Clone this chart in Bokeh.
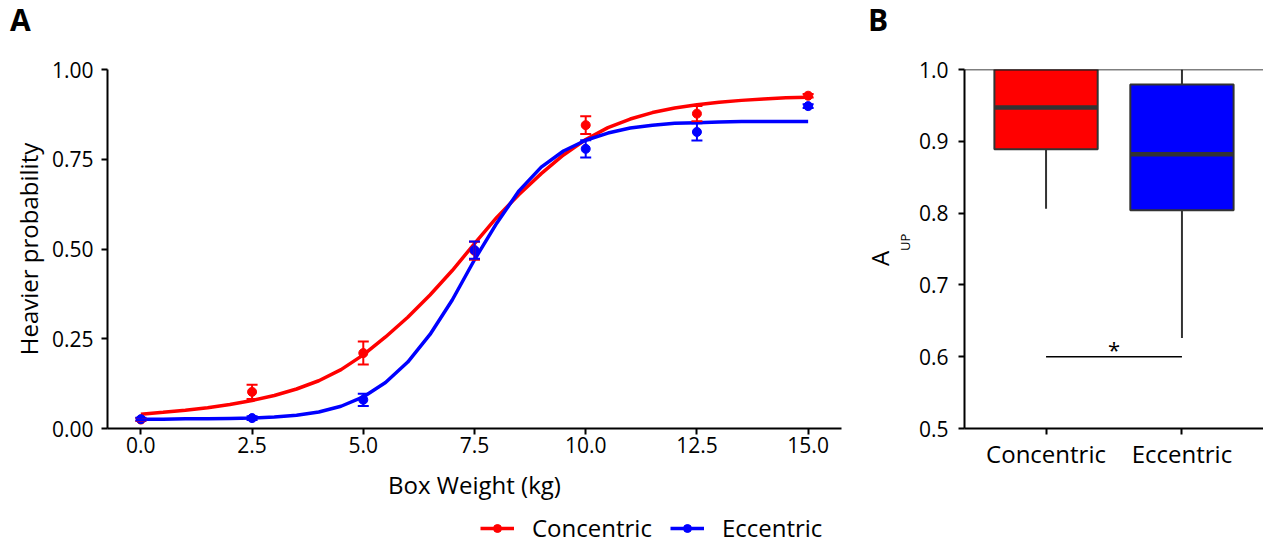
from bokeh.plotting import figure
from bokeh.layouts import row, column
from bokeh.models import (Range1d, FixedTicker, NumeralTickFormatter, Legend, LegendItem,
                          Span, ColumnDataSource, Whisker, TeeHead, Title, Div)
from bokeh.embed import file_html
from bokeh.resources import INLINE
from bokeh.core.properties import value

# ---------------- data ----------------
weights = [0.0, 2.5, 5.0, 7.5, 10.0, 12.5, 15.0]
conc_mean = [0.025, 0.102, 0.210, 0.495, 0.845, 0.877, 0.927]
conc_se = [0.004, 0.020, 0.032, 0.025, 0.025, 0.021, 0.005]
ecc_mean = [0.026, 0.029, 0.080, 0.497, 0.779, 0.826, 0.898]
ecc_se = [0.004, 0.005, 0.017, 0.024, 0.024, 0.024, 0.005]

fit_x = [0.0, 0.5, 1.0, 1.5, 2.0, 2.5, 3.0, 3.5, 4.0, 4.5, 5.0, 5.5, 6.0, 6.5, 7.0, 7.5,
         8.0, 8.5, 9.0, 9.5, 10.0, 10.5, 11.0, 11.5, 12.0, 12.5, 13.0, 13.5, 14.0, 14.5, 15.0]
conc_fit = [0.040, 0.045, 0.051, 0.058, 0.067, 0.078, 0.092, 0.110, 0.133, 0.164, 0.205,
            0.255, 0.310, 0.372, 0.440, 0.515, 0.588, 0.652, 0.710, 0.762, 0.805, 0.838,
            0.862, 0.880, 0.893, 0.902, 0.909, 0.914, 0.918, 0.921, 0.923]
ecc_fit = [0.026, 0.026, 0.027, 0.027, 0.028, 0.029, 0.032, 0.037, 0.046, 0.062, 0.088,
           0.128, 0.185, 0.262, 0.358, 0.470, 0.572, 0.662, 0.728, 0.773, 0.803, 0.823,
           0.837, 0.845, 0.850, 0.852, 0.854, 0.855, 0.855, 0.855, 0.855]

series_names = ["Concentric", "Eccentric"]

conditions = ["Concentric", "Eccentric"]
aup_lower = [0.806, 0.626]
aup_q1 = [0.889, 0.804]
aup_median = [0.947, 0.882]
aup_q3 = [1.000, 0.979]
aup_upper = [1.000, 1.000]
sig_y = 0.6
sig_text = "*"

x_ticks = [0.0, 2.5, 5.0, 7.5, 10.0, 12.5, 15.0]
y_ticks_a = [0.0, 0.25, 0.5, 0.75, 1.0]
y_ticks_b = [0.5, 0.6, 0.7, 0.8, 0.9, 1.0]

# ---------------- style ----------------
FONT = "Open Sans"
RED = "#FF0000"
BLUE = "#0000FF"
series_colors = [RED, BLUE]
NUM_FS = "21px"
CAT_FS = "24px"
TITLE_FS = "24px"

TOP_H = 40          # strip holding the panel letters
PLOT_H = 466        # height of both chart canvases
LEG_H = 39          # strip holding the legend
BORDER_T = 29
BORDER_B = 78


def style_axis(ax, standoff=8, fs=NUM_FS):
    ax.axis_line_color = "black"
    ax.axis_line_width = 2
    ax.major_tick_line_color = "black"
    ax.major_tick_line_width = 2
    ax.major_tick_out = 6
    ax.major_tick_in = 0
    ax.minor_tick_line_color = None
    ax.major_label_text_font = FONT
    ax.major_label_text_font_size = fs
    ax.major_label_text_color = "black"
    ax.major_label_standoff = standoff
    ax.axis_label_text_font = FONT
    ax.axis_label_text_font_size = TITLE_FS
    ax.axis_label_text_font_style = "normal"
    ax.axis_label_text_color = "black"


# ---------------- panel letters ----------------
letters = Div(text=(
    '<div style="position:relative;width:1000px;height:40px;font-family:\'Open Sans\';'
    'font-weight:bold;font-size:30px;line-height:30px;color:black;">'
    '<span style="position:absolute;left:10px;top:5px;">A</span>'
    '<span style="position:absolute;left:868px;top:5px;">B</span></div>'),
    width=1000, height=TOP_H, margin=0)

# ---------------- panel A ----------------
pA = figure(width=860, height=PLOT_H, x_range=Range1d(-0.75, 15.75), y_range=Range1d(0, 1),
            output_backend="svg", toolbar_location=None,
            min_border_left=107, min_border_right=19, min_border_top=BORDER_T,
            min_border_bottom=BORDER_B)
pA.outline_line_color = None
pA.xgrid.visible = False
pA.ygrid.visible = False

style_axis(pA.xaxis[0], 2)
style_axis(pA.yaxis[0], 8)
pA.xaxis[0].ticker = FixedTicker(ticks=x_ticks)
pA.xaxis[0].formatter = NumeralTickFormatter(format="0.0")
pA.yaxis[0].ticker = FixedTicker(ticks=y_ticks_a)
pA.yaxis[0].formatter = NumeralTickFormatter(format="0.00")
pA.xaxis[0].axis_label = "Box Weight (kg)"
pA.yaxis[0].axis_label = "Heavier probability"
pA.xaxis[0].axis_label_standoff = 12
pA.yaxis[0].axis_label_standoff = 4

series = [(series_names[0], RED, conc_mean, conc_se, conc_fit),
          (series_names[1], BLUE, ecc_mean, ecc_se, ecc_fit)]
for name, col, mean, se, fit in series:
    pA.line(fit_x, fit, line_color=col, line_width=3.5)
    src = ColumnDataSource(dict(x=weights, m=mean,
                                lo=[m - s for m, s in zip(mean, se)],
                                hi=[m + s for m, s in zip(mean, se)]))
    w = Whisker(source=src, base="x", lower="lo", upper="hi", dimension="height",
                line_color=col, line_width=2, level="glyph",
                upper_head=TeeHead(size=11, line_color=col, line_width=2),
                lower_head=TeeHead(size=11, line_color=col, line_width=2))
    pA.add_layout(w)
    pA.scatter("x", "m", source=src, size=9, fill_color=col, line_color=col)

# ---------------- legend strip (same series, plotted out of view) ----------------
pLeg = figure(width=860, height=LEG_H, x_range=Range1d(0, 1), y_range=Range1d(2, 3),
              output_backend="svg", toolbar_location=None,
              x_axis_location=None, y_axis_location=None,
              min_border_left=107, min_border_right=19, min_border_top=0, min_border_bottom=0)
pLeg.outline_line_color = None
pLeg.xgrid.visible = False
pLeg.ygrid.visible = False
items = []
for name, col, mean, se, fit in series:
    lr = pLeg.line(fit_x, fit, line_color=col, line_width=3.5)
    sr = pLeg.scatter(weights, mean, size=8, fill_color=col, line_color=col)
    items.append(LegendItem(label=name, renderers=[lr, sr]))
legend = Legend(items=items, orientation="horizontal", location=(373, 1),
                label_text_font=FONT, label_text_font_size=CAT_FS, label_text_color="black",
                glyph_width=34, glyph_height=20, label_standoff=18, spacing=18,
                border_line_color=None, background_fill_alpha=0, padding=0, margin=0)
pLeg.add_layout(legend)

# ---------------- panel B ----------------
pos = [float(i + 1) for i in range(len(conditions))]

pB = figure(width=403, height=PLOT_H, x_range=Range1d(0.4, 2.6), y_range=Range1d(0.5, 1.0),
            output_backend="svg", toolbar_location=None,
            min_border_left=97, min_border_right=0, min_border_top=BORDER_T,
            min_border_bottom=BORDER_B)
pB.outline_line_color = None
pB.xgrid.visible = False
pB.ygrid.visible = False
style_axis(pB.xaxis[0], 2, CAT_FS)
style_axis(pB.yaxis[0], 10)
pB.xaxis[0].ticker = FixedTicker(ticks=pos)
pB.xaxis[0].major_label_overrides = {p: c for p, c in zip(pos, conditions)}
pB.yaxis[0].ticker = FixedTicker(ticks=y_ticks_b)
pB.yaxis[0].formatter = NumeralTickFormatter(format="0.0")

# y-axis title A with subscript UP
pB.add_layout(Title(text="UP", align="left", vertical_align="top", offset=177.5, standoff=0,
                    text_font=FONT, text_font_size="13px", text_font_style="normal",
                    text_color="black"), "left")
pB.add_layout(Title(text="A", align="left", vertical_align="bottom", offset=162.5, standoff=0,
                    text_font=FONT, text_font_size="24px", text_font_style="normal",
                    text_color="black"), "left")

pB.add_layout(Span(location=1.0, dimension="width", line_color="black", line_width=1.5))

pB.segment(x0=pos, y0=aup_lower, x1=pos, y1=aup_q1, line_color="#333333", line_width=2)
pB.segment(x0=pos, y0=aup_q3, x1=pos, y1=aup_upper, line_color="#333333", line_width=2)
pB.vbar(x=pos, width=0.76, bottom=aup_q1, top=aup_q3, fill_color=series_colors,
        line_color="#333333", line_width=2)
pB.segment(x0=[p - 0.38 for p in pos], y0=aup_median, x1=[p + 0.38 for p in pos],
           y1=aup_median, line_color="#333333", line_width=4.5)

pB.segment(x0=[pos[0]], y0=[sig_y], x1=[pos[1]], y1=[sig_y], line_color="black", line_width=1.5)
pB.text(x=[(pos[0] + pos[1]) / 2], y=[sig_y], text=[sig_text], text_align="center",
        text_baseline="alphabetic", y_offset=-8, text_font=value(FONT),
        text_font_size="22px", text_color="black")

layout = column(letters, row(column(pA, pLeg), pB))
open("out.html", "w").write(file_html(layout, INLINE))
